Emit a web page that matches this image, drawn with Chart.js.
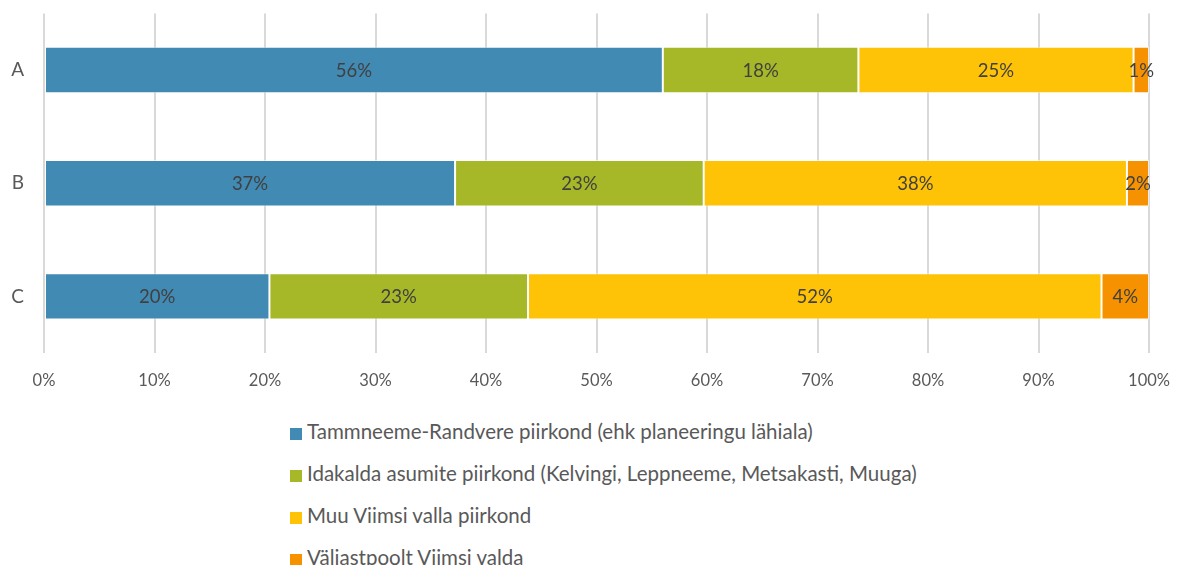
<!DOCTYPE html>
<html>
<head>
<meta charset="utf-8">
<script src="https://cdn.jsdelivr.net/npm/chart.js@4/dist/chart.umd.min.js"></script>
<style>
  html, body { margin: 0; padding: 0; background: #fff; }
  #wrap { position: relative; width: 1177px; height: 565px; overflow: hidden; }
  #box { position: absolute; left: 0; top: -18px; width: 1188px; height: 418px; }
  #legend { position: absolute; left: 290px; top: 418px; font-family: Lato, "Open Sans", sans-serif; font-size: 20.5px; color: #595959; }
  #legend div { height: 42px; line-height: 26px; white-space: nowrap; }
  #legend span { display: inline-block; width: 12px; height: 12px; margin-right: 5px; vertical-align: -1px; }
</style>
</head>
<body>
<div id="wrap">
  <div id="box"><canvas id="chart"></canvas></div>
  <div id="legend"></div>
</div>
<script>
const categories = ['A', 'B', 'C'];
const seriesNames = [
  'Tammneeme-Randvere piirkond (ehk planeeringu lähiala)',
  'Idakalda asumite piirkond (Kelvingi, Leppneeme, Metsakasti, Muuga)',
  'Muu Viimsi valla piirkond',
  'Väljastpoolt Viimsi valda'
];
const tammneeme = [56.0, 37.2, 20.4];
const idakalda = [17.7, 22.5, 23.4];
const muuViimsi = [24.9, 38.3, 51.9];
const valjast = [1.4, 2.0, 4.3];
const colours = ['#418AB3', '#A6B727', '#FEC306', '#F69200'];
const tickLabels = ['0%', '10%', '20%', '30%', '40%', '50%', '60%', '70%', '80%', '90%', '100%'];

const textColour = '#595959';
const fontFamily = 'Lato, "Open Sans", sans-serif';

// writes the rounded share in the middle of every segment
const segmentLabels = {
  id: 'segmentLabels',
  afterDatasetsDraw(chart) {
    const ctx = chart.ctx;
    ctx.save();
    ctx.font = '18.5px ' + fontFamily;
    ctx.fillStyle = '#404040';
    ctx.textAlign = 'center';
    ctx.textBaseline = 'middle';
    chart.data.datasets.forEach((ds, i) => {
      chart.getDatasetMeta(i).data.forEach((bar, j) => {
        const mid = (bar.x + bar.base) / 2;
        ctx.fillText(Math.round(ds.data[j]) + '%', mid, bar.y + 1);
      });
    });
    ctx.restore();
  }
};

const values = [tammneeme, idakalda, muuViimsi, valjast];

const chart = new Chart(document.getElementById('chart'), {
  type: 'bar',
  data: {
    labels: categories,
    datasets: seriesNames.map((name, i) => ({
      label: name,
      data: values[i],
      backgroundColor: colours[i],
      borderColor: 'rgba(255,255,255,0.55)',
      borderWidth: 1,
      borderSkipped: false,
      categoryPercentage: 1,
      barPercentage: 0.41
    }))
  },
  options: {
    indexAxis: 'y',
    responsive: true,
    maintainAspectRatio: false,
    animation: false,
    layout: { padding: { top: 14, right: 17, left: 0, bottom: 0 } },
    scales: {
      x: {
        stacked: true,
        min: 0,
        max: 100,
        border: { display: false },
        grid: { color: '#D9D9D9', lineWidth: 2, drawTicks: false },
        ticks: {
          stepSize: 10,
          padding: 18,
          color: textColour,
          font: { family: fontFamily, size: 16.5 },
          callback: (v, i) => tickLabels[i]
        },
        afterFit: (scale) => { scale.height = 47; }
      },
      y: {
        stacked: true,
        border: { display: false },
        grid: { display: false, drawTicks: false },
        ticks: {
          color: textColour,
          padding: 20,
          font: { family: fontFamily, size: 19 }
        },
        afterFit: (scale) => { scale.width = 44; }
      }
    },
    plugins: {
      legend: { display: false },
      tooltip: { enabled: false }
    }
  },
  plugins: [segmentLabels]
});

const legend = document.getElementById('legend');
chart.data.datasets.forEach((ds) => {
  const row = document.createElement('div');
  const sw = document.createElement('span');
  sw.style.background = ds.backgroundColor;
  row.appendChild(sw);
  row.appendChild(document.createTextNode(ds.label));
  legend.appendChild(row);
});
</script>
</body>
</html>
